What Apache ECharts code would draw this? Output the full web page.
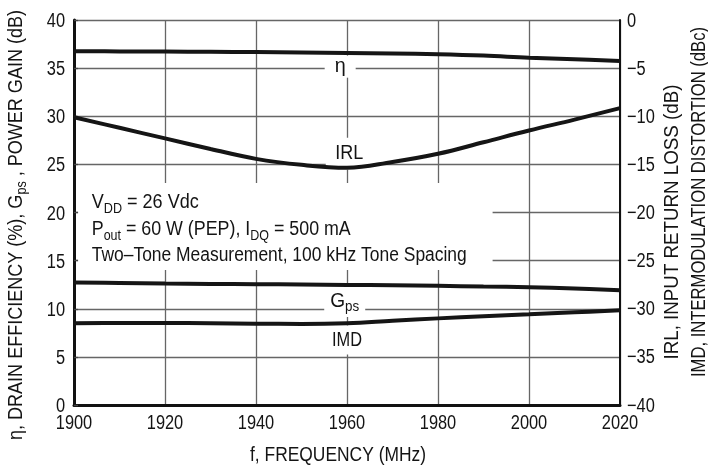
<!DOCTYPE html>
<html><head><meta charset="utf-8">
<script src="https://cdn.jsdelivr.net/npm/echarts@6/dist/echarts.min.js"></script>
<style>html,body{margin:0;padding:0;background:#fff}#c{width:708px;height:471px}</style>
</head><body><div id="c"></div>
<script>
// ---- data ----
const frequency = [1900, 1910, 1920, 1930, 1940, 1950, 1960, 1970, 1980, 1990, 2000, 2010, 2020];
const efficiency = [36.75, 36.74, 36.72, 36.70, 36.67, 36.63, 36.58, 36.52, 36.44, 36.30, 36.08, 35.92, 35.75];
const powerGain = [12.73, 12.68, 12.62, 12.58, 12.55, 12.52, 12.48, 12.43, 12.38, 12.31, 12.24, 12.10, 11.93];
const returnLoss = [-10.1, -11.2, -12.3, -13.4, -14.43, -15.05, -15.35, -14.75, -13.9, -12.7, -11.48, -10.35, -9.15];
const imd = [-31.5, -31.49, -31.48, -31.51, -31.55, -31.58, -31.5, -31.25, -31.0, -30.78, -30.58, -30.37, -30.15];

const xTickValues = [1900, 1920, 1940, 1960, 1980, 2000, 2020];
const xTickLabels = ['1900', '1920', '1940', '1960', '1980', '2000', '2020'];
const leftTickValues = [0, 5, 10, 15, 20, 25, 30, 35, 40];
const leftTickLabels = ['0', '5', '10', '15', '20', '25', '30', '35', '40'];
const rightTickValues = [-40, -35, -30, -25, -20, -15, -10, -5, 0];
const rightTickLabels = ['\u221240', '\u221235', '\u221230', '\u221225', '\u221220', '\u221215', '\u221210', '\u22125', '0'];

const FONT = '"Liberation Sans", Arial, sans-serif';
const TXT = '#141414';
const GRID = '#666';
const FS = 20, SUBFS = 14;
const TICK_SCALE = 0.82;

const zip = (xs, ys) => xs.map((x, i) => [x, ys[i]]);

const chart = echarts.init(document.getElementById('c'), null, {renderer: 'canvas'});

const lineSeries = (name, data, yIdx) => ({
  name, type: 'line', data, yAxisIndex: yIdx, showSymbol: false, symbol: 'none',
  smooth: 0.4, z: 2,
  lineStyle: {color: '#151515', width: 4}
});

chart.setOption({
  animation: false,
  backgroundColor: '#fff',
  grid: {left: 74, right: 88, top: 20, bottom: 66},
  xAxis: {
    type: 'value', min: 1900, max: 2020, interval: 20,
    axisLine: {lineStyle: {color: '#111', width: 3}},
    axisTick: {show: false},
    axisLabel: {show: false},
    splitLine: {show: true, lineStyle: {color: GRID, width: 1.3}}
  },
  yAxis: [{
    type: 'value', position: 'left', min: 0, max: 40, interval: 5,
    axisLine: {show: true, lineStyle: {color: '#111', width: 3}},
    axisTick: {show: true, inside: true, length: 4, lineStyle: {color: '#444', width: 1.3}},
    axisLabel: {show: false},
    splitLine: {show: true, lineStyle: {color: GRID, width: 1.3}}
  }, {
    type: 'value', position: 'right', min: -40, max: 0, interval: 5,
    axisLine: {show: true, lineStyle: {color: '#111', width: 2}},
    axisTick: {show: false},
    axisLabel: {show: false},
    splitLine: {show: false}
  }],
  series: [
    lineSeries('η', zip(frequency, efficiency), 0),
    lineSeries('Gps', zip(frequency, powerGain), 0),
    lineSeries('IRL', zip(frequency, returnLoss), 1),
    lineSeries('IMD', zip(frequency, imd), 1)
  ]
});

const px = (x, y) => chart.convertToPixel({xAxisIndex: 0, yAxisIndex: 0}, [x, y]);
const pxR = (x, y) => chart.convertToPixel({xAxisIndex: 0, yAxisIndex: 1}, [x, y]);

// text measuring for narrow-font emulation
const mctx = document.createElement('canvas').getContext('2d');
function measure(tokens) {
  let w = 0;
  tokens.forEach(([t, isSub]) => {
    mctx.font = (isSub ? SUBFS : FS) + 'px ' + FONT;
    w += mctx.measureText(t).width;
  });
  return w;
}
function richOf(tokens) {
  return tokens.map(([t, isSub]) => '{' + (isSub ? 's' : 'm') + '|' + t + '}').join('');
}
const RICH = {
  m: {fontSize: FS, fontFamily: FONT, fill: TXT, lineHeight: 26},
  s: {fontSize: SUBFS, fontFamily: FONT, fill: TXT, verticalAlign: 'bottom', lineHeight: 26}
};

function textEl(x, y, tokens, align, targetWidth, extra) {
  const s = targetWidth ? targetWidth / measure(tokens) : TICK_SCALE;
  return Object.assign({
    type: 'text', z: 3, silent: true, x, y, scaleX: s, scaleY: 1,
    style: {
      text: richOf(tokens), fontSize: FS, fontFamily: FONT, fill: TXT,
      align, verticalAlign: 'middle', textAlign: align, textVerticalAlign: 'middle',
      rich: RICH
    }
  }, extra || {});
}

function whiteBox(cx, cy, w, h) {
  const c = px(cx, cy);
  return {type: 'rect', z: 1, silent: true,
    shape: {x: c[0] - w / 2, y: c[1] - h / 2, width: w, height: h}, style: {fill: '#fff'}};
}
function curveLabel(cx, cy, w, h, tokens, tw) {
  const c = px(cx, cy);
  return [whiteBox(cx, cy, w, h), textEl(c[0], c[1], tokens, 'center', tw)];
}

const boxTL = px(1900.9, 23.07), boxBR = px(1992.0, 14.03);
const textX = px(1903.9, 0)[0];
const ROT = {rotation: Math.PI / 2};

const graphics = [
  ...curveLabel(1958.5, 35.15, 31, 22, [['η', 0]], 11),
  ...curveLabel(1960.5, 26.1, 47, 32, [['IRL', 0]], 28),
  ...curveLabel(1959.5, 10.75, 41, 31, [['G', 0], ['ps', 1]], 29),
  ...curveLabel(1960.0, 6.75, 40, 29, [['IMD', 0]], 30),
  {type: 'rect', z: 1, silent: true,
   shape: {x: boxTL[0], y: boxTL[1], width: boxBR[0] - boxTL[0], height: boxBR[1] - boxTL[1]},
   style: {fill: '#fff'}},
  textEl(textX, px(0, 21.0)[1], [['V', 0], ['DD', 1], [' = 26 Vdc', 0]], 'left', 107),
  textEl(textX, px(0, 18.2)[1], [['P', 0], ['out', 1], [' = 60 W (PEP), I', 0], ['DQ', 1], [' = 500 mA', 0]], 'left', 259),
  textEl(textX, px(0, 15.5)[1], [['Two\u2013Tone Measurement, 100 kHz Tone Spacing', 0]], 'left', 375),
  // axis titles
  textEl(338, 455, [['f, FREQUENCY (MHz)', 0]], 'center', 176),
  textEl(16.5, 225, [['η, DRAIN EFFICIENCY (%), G', 0], ['ps', 1], [' , POWER GAIN (dB)', 0]], 'center', 430, ROT),
  textEl(672.5, 222, [['IRL, INPUT RETURN LOSS (dB)', 0]], 'center', 275, ROT),
  textEl(699.5, 202, [['IMD, INTERMODULATION DISTORTION (dBc)', 0]], 'center', 350, ROT)
];

// tick labels placed through the axes' own scales
xTickValues.forEach((v, i) => {
  const p = px(v, 0);
  graphics.push(textEl(p[0], p[1] + 18.5, [[xTickLabels[i], 0]], 'center'));
});
leftTickValues.forEach((v, i) => {
  const p = px(1900, v);
  graphics.push(textEl(p[0] - 9, p[1] + 1.5, [[leftTickLabels[i], 0]], 'right'));
});
rightTickValues.forEach((v, i) => {
  const p = pxR(2020, v);
  graphics.push(textEl(p[0] + 7, p[1] + 1, [[rightTickLabels[i], 0]], 'left'));
});

chart.setOption({graphic: {elements: graphics}});
</script>
</body></html>
